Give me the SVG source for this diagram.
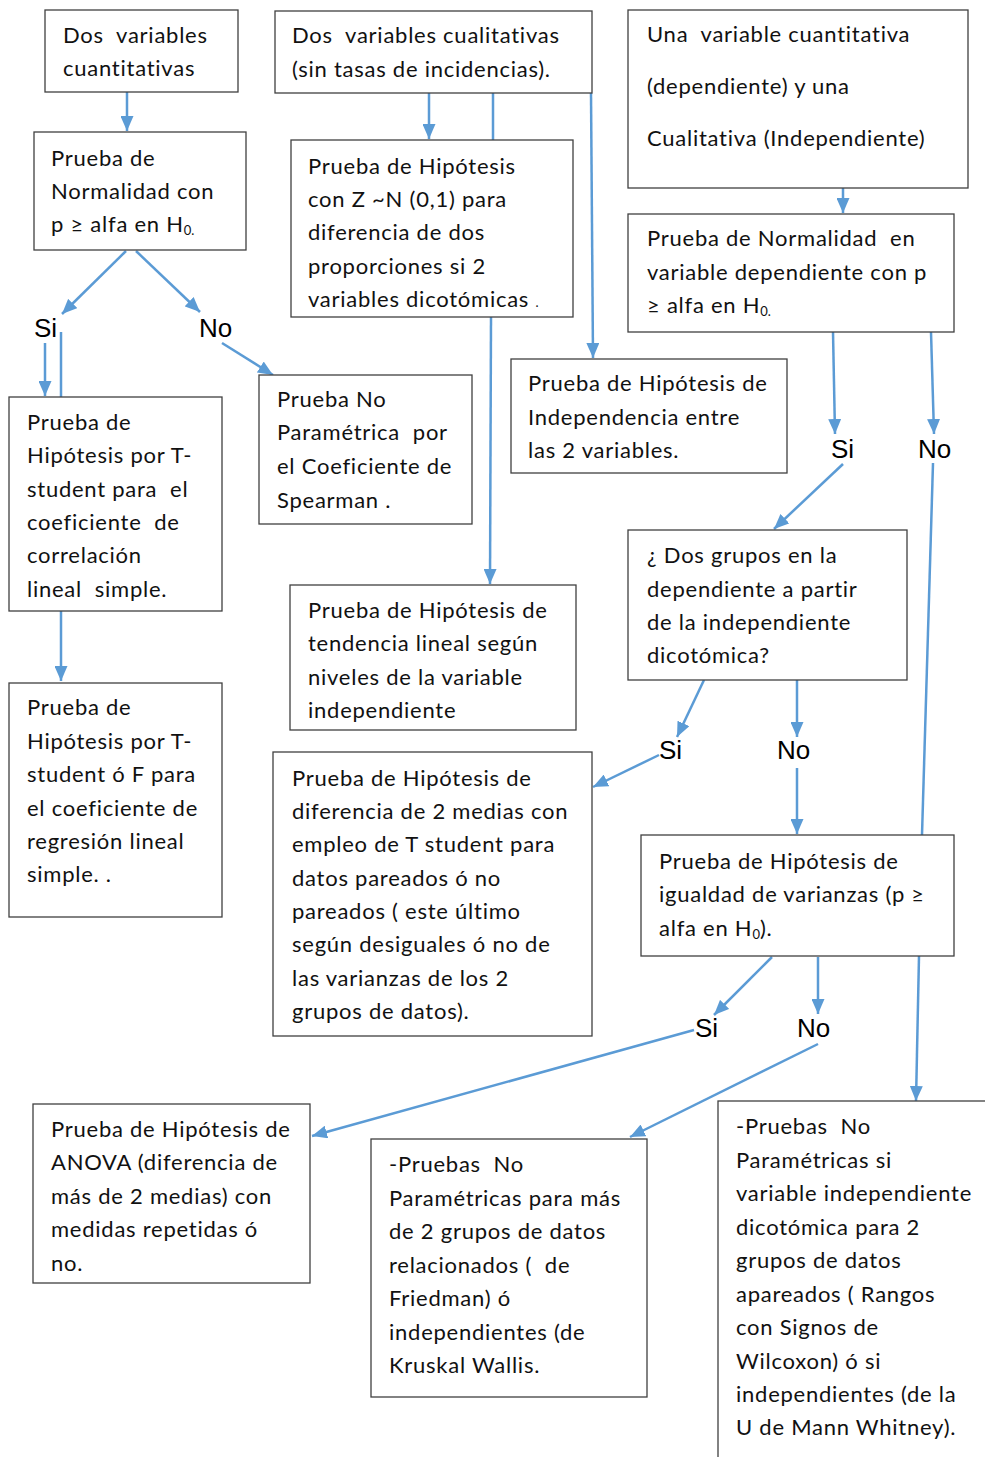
<svg xmlns="http://www.w3.org/2000/svg" width="985" height="1457" viewBox="0 0 985 1457">
<defs>
<style>
.box{fill:#fff;stroke:#404040;stroke-width:1.3}
.t{font-family:Lato,"Open Sans","Liberation Sans",sans-serif;font-size:22px;letter-spacing:0.75px;fill:#111;white-space:pre}
.lbl{font-family:"Liberation Sans",Arial,sans-serif;font-size:26px;fill:#000}
.c{stroke:#5B9BD5;stroke-width:2.5;fill:none}
.a{marker-end:url(#ah)}
.sub{font-size:13px;letter-spacing:0}
</style>
<marker id="ah" markerUnits="userSpaceOnUse" markerWidth="15" markerHeight="13" viewBox="0 0 15 13" refX="15" refY="6.5" orient="auto">
<path d="M0,0 L15,6.5 L0,13 z" fill="#5B9BD5"/>
</marker>
</defs>
<rect width="985" height="1457" fill="#fff"/>

<g id="connectors">
<line class="c a" x1="127" y1="92" x2="127" y2="131"/>
<line class="c a" x1="126" y1="251" x2="62" y2="314"/>
<line class="c a" x1="136" y1="251" x2="200" y2="312"/>
<line class="c a" x1="45" y1="343" x2="45" y2="396"/>
<line class="c" x1="61" y1="332" x2="61" y2="397"/>
<line class="c a" x1="61" y1="611" x2="61" y2="681"/>
<line class="c a" x1="222" y1="343" x2="273" y2="375"/>
<line class="c a" x1="429" y1="93" x2="429" y2="139"/>
<line class="c" x1="493" y1="93" x2="493" y2="140"/>
<line class="c a" x1="491" y1="317" x2="490" y2="584"/>
<line class="c a" x1="591" y1="93" x2="593" y2="358"/>
<line class="c a" x1="843" y1="188" x2="843" y2="213"/>
<line class="c a" x1="833" y1="332" x2="835" y2="434"/>
<line class="c a" x1="931" y1="332" x2="934" y2="434"/>
<line class="c a" x1="843" y1="464" x2="774" y2="529"/>
<line class="c" x1="933" y1="463" x2="922" y2="835"/>
<line class="c a" x1="919" y1="956" x2="916" y2="1101"/>
<line class="c a" x1="704" y1="680" x2="677" y2="737"/>
<line class="c a" x1="659" y1="755" x2="593" y2="787"/>
<line class="c a" x1="797" y1="680" x2="797" y2="737"/>
<line class="c a" x1="797" y1="768" x2="797" y2="834"/>
<line class="c a" x1="772" y1="957" x2="714" y2="1015"/>
<line class="c a" x1="818" y1="957" x2="818" y2="1014"/>
<line class="c a" x1="694" y1="1030" x2="312" y2="1136"/>
<line class="c a" x1="818" y1="1044" x2="630" y2="1137"/>
</g>

<g id="labels">
<text class="lbl" x="34" y="337">Si</text>
<text class="lbl" x="199" y="337">No</text>
<text class="lbl" x="831" y="458">Si</text>
<text class="lbl" x="918" y="458">No</text>
<text class="lbl" x="659" y="759">Si</text>
<text class="lbl" x="777" y="759">No</text>
<text class="lbl" x="695" y="1037">Si</text>
<text class="lbl" x="797" y="1037">No</text>
</g>

<g id="n1"><rect class="box" x="45" y="10" width="193" height="82"/>
<text class="t" x="63" y="43">Dos  variables</text>
<text class="t" x="63" y="76">cuantitativas</text></g>

<g id="n2"><rect class="box" x="275" y="11" width="317" height="82"/>
<text class="t" x="292" y="43">Dos  variables cualitativas</text>
<text class="t" x="292" y="77">(sin tasas de incidencias).</text></g>

<g id="n3"><rect class="box" x="628" y="10" width="340" height="178"/>
<text class="t" x="647" y="42">Una  variable cuantitativa</text>
<text class="t" x="647" y="94">(dependiente) y una</text>
<text class="t" x="647" y="146">Cualitativa (Independiente)</text></g>

<g id="n4"><rect class="box" x="34" y="132" width="212" height="118"/>
<text class="t" x="51" y="166">Prueba de</text>
<text class="t" x="51" y="199">Normalidad con</text>
<text class="t" x="51" y="232">p ≥ alfa en H<tspan class="sub" dy="3">0.</tspan></text></g>

<g id="n5"><rect class="box" x="291" y="140" width="282" height="177"/>
<text class="t" x="308" y="174">Prueba de Hipótesis</text>
<text class="t" x="308" y="207">con Z ~N (0,1) para</text>
<text class="t" x="308" y="240">diferencia de dos</text>
<text class="t" x="308" y="274">proporciones si 2</text>
<text class="t" x="308" y="307">variables dicotómicas <tspan class="sub">.</tspan></text></g>

<g id="n6"><rect class="box" x="628" y="214" width="326" height="118"/>
<text class="t" x="647" y="246">Prueba de Normalidad  en</text>
<text class="t" x="647" y="280">variable dependiente con p</text>
<text class="t" x="647" y="313">≥ alfa en H<tspan class="sub" dy="3">0.</tspan></text></g>

<g id="n7"><rect class="box" x="511" y="359" width="276" height="114"/>
<text class="t" x="528" y="391">Prueba de Hipótesis de</text>
<text class="t" x="528" y="425">Independencia entre</text>
<text class="t" x="528" y="458">las 2 variables.</text></g>

<g id="n8"><rect class="box" x="9" y="397" width="213" height="214"/>
<text class="t" x="27" y="430">Prueba de</text>
<text class="t" x="27" y="463">Hipótesis por T-</text>
<text class="t" x="27" y="497">student para  el</text>
<text class="t" x="27" y="530">coeficiente  de</text>
<text class="t" x="27" y="563">correlación</text>
<text class="t" x="27" y="597">lineal  simple.</text></g>

<g id="n9"><rect class="box" x="259" y="375" width="213" height="149"/>
<text class="t" x="277" y="407">Prueba No</text>
<text class="t" x="277" y="440">Paramétrica  por</text>
<text class="t" x="277" y="474">el Coeficiente de</text>
<text class="t" x="277" y="508">Spearman .</text></g>

<g id="n10"><rect class="box" x="628" y="530" width="279" height="150"/>
<text class="t" x="647" y="563">¿ Dos grupos en la</text>
<text class="t" x="647" y="597">dependiente a partir</text>
<text class="t" x="647" y="630">de la independiente</text>
<text class="t" x="647" y="663">dicotómica?</text></g>

<g id="n11"><rect class="box" x="290" y="585" width="286" height="145"/>
<text class="t" x="308" y="618">Prueba de Hipótesis de</text>
<text class="t" x="308" y="651">tendencia lineal según</text>
<text class="t" x="308" y="685">niveles de la variable</text>
<text class="t" x="308" y="718">independiente</text></g>

<g id="n12"><rect class="box" x="9" y="683" width="213" height="234"/>
<text class="t" x="27" y="715">Prueba de</text>
<text class="t" x="27" y="749">Hipótesis por T-</text>
<text class="t" x="27" y="782">student ó F para</text>
<text class="t" x="27" y="816">el coeficiente de</text>
<text class="t" x="27" y="849">regresión lineal</text>
<text class="t" x="27" y="882">simple. .</text></g>

<g id="n13"><rect class="box" x="273" y="752" width="319" height="284"/>
<text class="t" x="292" y="786">Prueba de Hipótesis de</text>
<text class="t" x="292" y="819">diferencia de 2 medias con</text>
<text class="t" x="292" y="852">empleo de T student para</text>
<text class="t" x="292" y="886">datos pareados ó no</text>
<text class="t" x="292" y="919">pareados ( este último</text>
<text class="t" x="292" y="952">según desiguales ó no de</text>
<text class="t" x="292" y="986">las varianzas de los 2</text>
<text class="t" x="292" y="1019">grupos de datos).</text></g>

<g id="n14"><rect class="box" x="641" y="835" width="313" height="121"/>
<text class="t" x="659" y="869">Prueba de Hipótesis de</text>
<text class="t" x="659" y="902">igualdad de varianzas (p ≥</text>
<text class="t" x="659" y="936">alfa en H<tspan class="sub" dy="3">0</tspan><tspan dy="-3">).</tspan></text></g>

<g id="n15"><rect class="box" x="33" y="1104" width="277" height="179"/>
<text class="t" x="51" y="1137">Prueba de Hipótesis de</text>
<text class="t" x="51" y="1170">ANOVA (diferencia de</text>
<text class="t" x="51" y="1204">más de 2 medias) con</text>
<text class="t" x="51" y="1237">medidas repetidas ó</text>
<text class="t" x="51" y="1271">no.</text></g>

<g id="n16"><rect class="box" x="371" y="1139" width="276" height="258"/>
<text class="t" x="389" y="1172">-Pruebas  No</text>
<text class="t" x="389" y="1206">Paramétricas para más</text>
<text class="t" x="389" y="1239">de 2 grupos de datos</text>
<text class="t" x="389" y="1273">relacionados (  de</text>
<text class="t" x="389" y="1306">Friedman) ó</text>
<text class="t" x="389" y="1340">independientes (de</text>
<text class="t" x="389" y="1373">Kruskal Wallis.</text></g>

<g id="n17"><rect class="box" x="718" y="1101" width="300" height="380"/>
<text class="t" x="736" y="1134">-Pruebas  No</text>
<text class="t" x="736" y="1168">Paramétricas si</text>
<text class="t" x="736" y="1201">variable independiente</text>
<text class="t" x="736" y="1235">dicotómica para 2</text>
<text class="t" x="736" y="1268">grupos de datos</text>
<text class="t" x="736" y="1302">apareados ( Rangos</text>
<text class="t" x="736" y="1335">con Signos de</text>
<text class="t" x="736" y="1369">Wilcoxon) ó si</text>
<text class="t" x="736" y="1402">independientes (de la</text>
<text class="t" x="736" y="1435">U de Mann Whitney).</text></g>
</svg>
